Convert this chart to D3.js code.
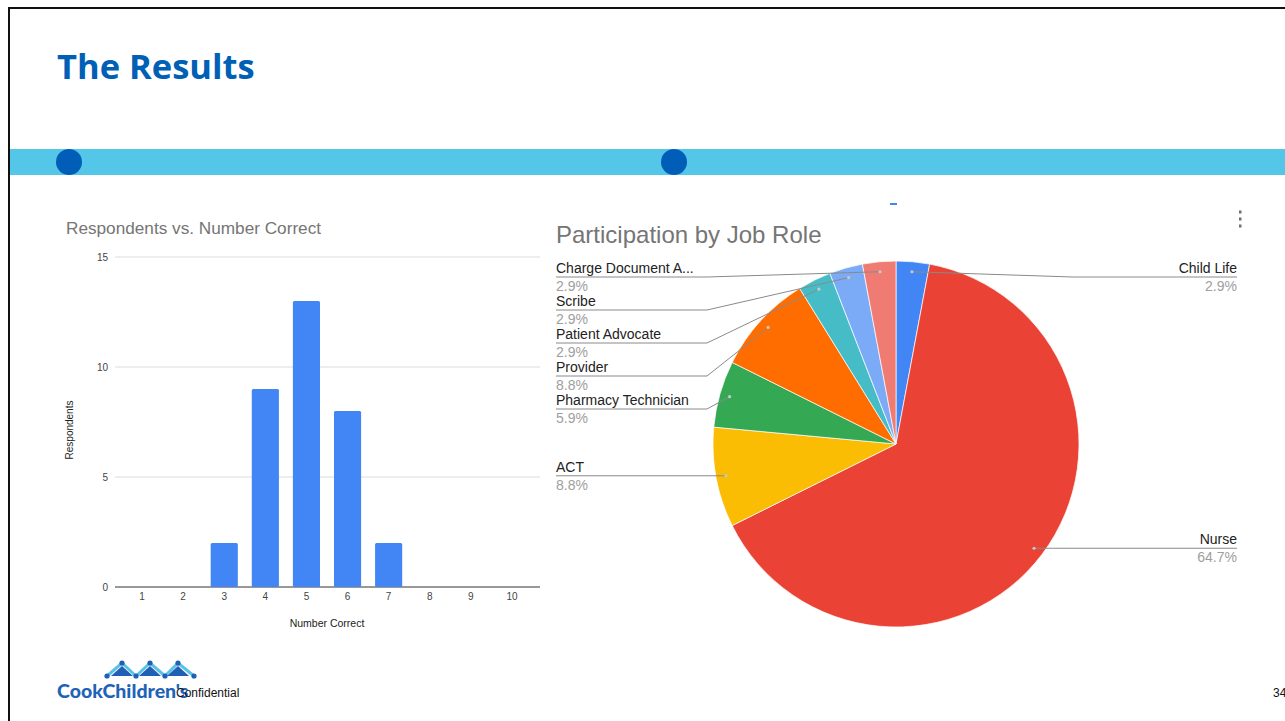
<!DOCTYPE html>
<html>
<head>
<meta charset="utf-8">
<script src="https://cdn.jsdelivr.net/npm/d3@7"></script>
<style>
  body { margin: 0; background: #fff; }
  svg { display: block; }
</style>
</head>
<body>
<div id="chart"></div>
<script>
// bar chart data
const scores = ["1", "2", "3", "4", "5", "6", "7", "8", "9", "10"];
const respondents = [0, 0, 2, 9, 13, 8, 2, 0, 0, 0];
const yTicks = [0, 5, 10, 15];

// pie chart data (clockwise from 12 o'clock)
const roles = ["Child Life", "Nurse", "ACT", "Pharmacy Technician", "Provider", "Patient Advocate", "Scribe", "Charge Document A..."];
const roleCounts = [1, 22, 3, 2, 3, 1, 1, 1];
const roleColors = ["#4285f4", "#ea4335", "#fbbc04", "#34a853", "#ff6d01", "#46bdc6", "#7baaf7", "#f07b72"];

const width = 1285, height = 721;
const chartFont = "'Liberation Sans', Arial, sans-serif";

const svg = d3.select("#chart").append("svg")
    .attr("width", width)
    .attr("height", height);

// slide frame
svg.append("rect")
    .attr("x", 9).attr("y", 8)
    .attr("width", width).attr("height", height)
    .attr("fill", "none")
    .attr("stroke", "#111")
    .attr("stroke-width", 2);

svg.append("text")
    .attr("x", 57).attr("y", 79)
    .attr("fill", "#0060b6")
    .attr("font-family", "'Open Sans', 'Noto Sans', sans-serif")
    .attr("font-weight", 700)
    .attr("font-size", 34.5)
    .text("The Results");

// blue band with dots
svg.append("rect")
    .attr("x", 10).attr("y", 149)
    .attr("width", width - 10).attr("height", 26)
    .attr("fill", "#54c7e8");
svg.selectAll(".band-dot")
    .data([69, 674])
    .join("circle")
    .attr("class", "band-dot")
    .attr("cx", d => d).attr("cy", 162).attr("r", 13)
    .attr("fill", "#005eb8");

// ---------- bar chart ----------
const x = d3.scaleBand()
    .domain(scores)
    .range([121.5, 532.5])
    .paddingInner(0.34)
    .paddingOuter(0.17);

const y = d3.scaleLinear()
    .domain([0, 15])
    .range([587, 257]);

const bar = svg.append("g");

bar.append("text")
    .attr("x", 66).attr("y", 234)
    .attr("fill", "#757575")
    .attr("font-family", chartFont)
    .attr("font-size", 17.2)
    .text("Respondents vs. Number Correct");

// gridlines
bar.selectAll(".grid")
    .data(yTicks)
    .join("line")
    .attr("class", "grid")
    .attr("x1", 115).attr("x2", 540)
    .attr("y1", d => y(d)).attr("y2", d => y(d))
    .attr("stroke", d => d === 0 ? "#333" : "#dcdcdc")
    .attr("stroke-width", 1);

// y axis labels
const yAxis = bar.append("g")
    .attr("transform", "translate(108,0)")
    .call(d3.axisLeft(y).tickValues(yTicks).tickSize(0).tickPadding(0));
yAxis.select(".domain").remove();
yAxis.selectAll("text")
    .attr("font-family", chartFont)
    .attr("font-size", 10)
    .attr("fill", "#444");

// bars
bar.selectAll(".bar")
    .data(respondents)
    .join("rect")
    .attr("class", "bar")
    .attr("x", (d, i) => x(scores[i]))
    .attr("y", d => y(d))
    .attr("width", x.bandwidth())
    .attr("height", d => y(0) - y(d))
    .attr("rx", 1.5)
    .attr("fill", "#4285f4");

// x axis labels
const xAxis = bar.append("g")
    .attr("transform", "translate(0,590)")
    .call(d3.axisBottom(x).tickSize(0).tickPadding(3));
xAxis.select(".domain").remove();
xAxis.selectAll("text")
    .attr("font-family", chartFont)
    .attr("font-size", 10)
    .attr("fill", "#444");

bar.append("text")
    .attr("x", 327).attr("y", 627)
    .attr("text-anchor", "middle")
    .attr("font-family", chartFont)
    .attr("font-size", 10.5)
    .attr("fill", "#222")
    .text("Number Correct");

bar.append("text")
    .attr("transform", "translate(73,430) rotate(-90)")
    .attr("text-anchor", "middle")
    .attr("font-family", chartFont)
    .attr("font-size", 10)
    .attr("fill", "#222")
    .text("Respondents");

// ---------- pie chart ----------
const cx = 896, cy = 444, radius = 183;
const total = d3.sum(roleCounts);
const pct = d3.format(".1%");

const pieData = d3.pie().sort(null).value(d => d)(roleCounts)
    .map((p, i) => ({ ...p, role: roles[i], color: roleColors[i] }));

const arc = d3.arc().innerRadius(0).outerRadius(radius);
const dotArc = d3.arc().innerRadius(173).outerRadius(173);

const pie = svg.append("g");

pie.append("text")
    .attr("x", 556).attr("y", 243)
    .attr("fill", "#757575")
    .attr("font-family", chartFont)
    .attr("font-size", 24)
    .text("Participation by Job Role");

const slices = pie.append("g").attr("transform", `translate(${cx},${cy})`);
slices.selectAll("path")
    .data(pieData)
    .join("path")
    .attr("d", arc)
    .attr("fill", d => d.color)
    .attr("stroke", "#fff")
    .attr("stroke-width", 0.7);

// label placement: stack per side, min gap between rows
pieData.forEach(d => {
    const [px, py] = dotArc.centroid(d);
    d.dx = cx + px;
    d.dy = cy + py;
    d.side = (d.startAngle + d.endAngle) / 2 < Math.PI ? "right" : "left";
});
["left", "right"].forEach(side => {
    let prev = -Infinity;
    pieData.filter(d => d.side === side)
        .sort((a, b) => a.dy - b.dy)
        .forEach(d => {
            d.uy = Math.max(d.dy, 277, prev + 33);
            prev = d.uy;
        });
});

const labels = pie.append("g");

labels.selectAll(".leader")
    .data(pieData)
    .join("polyline")
    .attr("class", "leader")
    .attr("points", d => d.side === "left"
        ? [[556, d.uy], [707, d.uy], [d.dx, d.dy]].join(" ")
        : [[1237, d.uy], [1073, d.uy], [d.dx, d.dy]].join(" "))
    .attr("fill", "none")
    .attr("stroke", "#8a8a8a")
    .attr("stroke-width", 1);

labels.selectAll(".dot")
    .data(pieData)
    .join("circle")
    .attr("class", "dot")
    .attr("cx", d => d.dx).attr("cy", d => d.dy)
    .attr("r", 1.6)
    .attr("fill", "#c8c8c8");

labels.selectAll(".name")
    .data(pieData)
    .join("text")
    .attr("class", "name")
    .attr("x", d => d.side === "left" ? 556 : 1237)
    .attr("y", d => d.uy - 4)
    .attr("text-anchor", d => d.side === "left" ? "start" : "end")
    .attr("font-family", chartFont)
    .attr("font-size", 14)
    .attr("fill", "#222")
    .text(d => d.role);

labels.selectAll(".pct")
    .data(pieData)
    .join("text")
    .attr("class", "pct")
    .attr("x", d => d.side === "left" ? 556 : 1237)
    .attr("y", d => d.uy + 14)
    .attr("text-anchor", d => d.side === "left" ? "start" : "end")
    .attr("font-family", chartFont)
    .attr("font-size", 14)
    .attr("fill", "#9e9e9e")
    .text(d => pct(d.value / total));

// small toolbar remnants
pie.append("rect")
    .attr("x", 890).attr("y", 203).attr("width", 7).attr("height", 2)
    .attr("fill", "#4285f4");
pie.selectAll(".kebab")
    .data([212, 219, 226])
    .join("rect")
    .attr("class", "kebab")
    .attr("x", 1239).attr("y", d => d - 1.5).attr("width", 2.5).attr("height", 3)
    .attr("fill", "#6f6f6f");

// ---------- footer ----------
const logo = svg.append("g");
const peaks = [[122, 663], [150, 663], [178, 663]];
const bases = [107, 136, 165, 194];
peaks.forEach((p, i) => {
    const l = [bases[i], 676], r = [bases[i + 1], 676];
    logo.append("path")
        .attr("d", `M${l}L${p}L${r}`)
        .attr("fill", "none")
        .attr("stroke", "#5bc2e7")
        .attr("stroke-width", 3);
    logo.append("path")
        .attr("d", `M${p[0]},${p[1] + 3}L${p[0] - 11},${p[1] + 13}L${p[0] + 11},${p[1] + 13}Z`)
        .attr("fill", "#1f5fb5");
});
logo.selectAll(".vtx")
    .data(peaks.concat(bases.map(b => [b, 676])))
    .join("circle")
    .attr("class", "vtx")
    .attr("cx", d => d[0]).attr("cy", d => d[1]).attr("r", 2.6)
    .attr("fill", "#1f5fb5");
logo.append("text")
    .attr("x", 57).attr("y", 698)
    .attr("fill", "#1f63b8")
    .attr("font-family", "Lato, 'Open Sans', sans-serif")
    .attr("font-weight", 900)
    .attr("font-size", 19.5)
    .text("CookChildren's");

svg.append("text")
    .attr("x", 176).attr("y", 697)
    .attr("font-family", chartFont)
    .attr("font-size", 12)
    .attr("fill", "#111")
    .text("Confidential");

svg.append("text")
    .attr("x", 1273).attr("y", 697)
    .attr("font-family", chartFont)
    .attr("font-size", 12)
    .attr("fill", "#111")
    .text("34");
</script>
</body>
</html>
